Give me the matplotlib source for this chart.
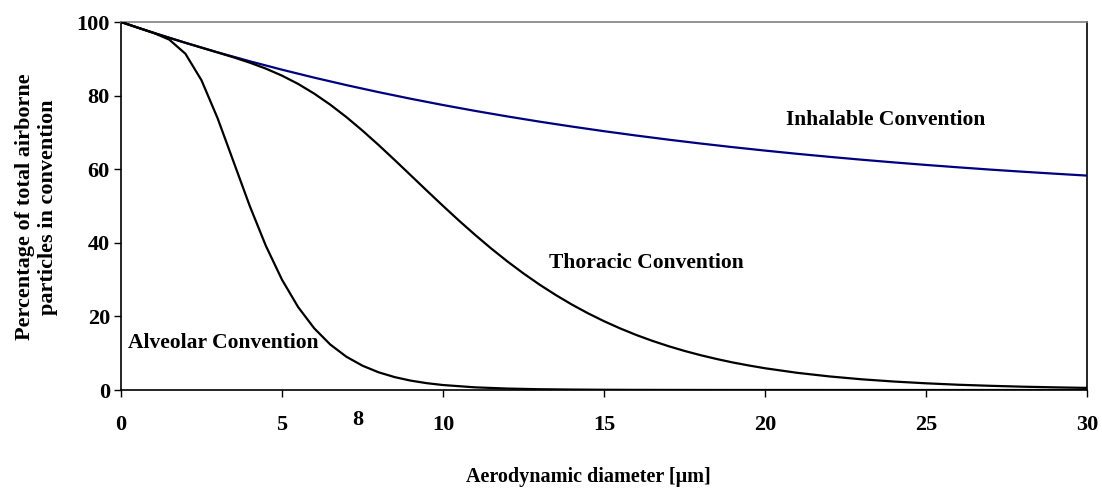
import matplotlib
matplotlib.use("Agg")
import matplotlib.pyplot as plt

# ---- data ----
inhal_x = list(range(0, 31))
inhal_y = [100, 97.09, 94.35, 91.76, 89.33, 87.04, 84.88, 82.85, 80.94, 79.14,
           77.44, 75.84, 74.34, 72.92, 71.59, 70.33, 69.15, 68.03, 66.98, 65.99,
           65.06, 64.18, 63.36, 62.58, 61.85, 61.16, 60.51, 59.89, 59.32, 58.78, 58.26]

thor_x = [0, 0.5, 1, 1.5, 2, 2.5, 3, 3.5, 4, 4.5, 5, 5.5, 6, 6.5, 7, 7.5, 8, 8.5, 9, 9.5,
          10, 10.5, 11, 11.5, 12, 12.5, 13, 13.5, 14, 14.5, 15, 15.5, 16, 16.5, 17, 17.5,
          18, 18.5, 19, 19.5, 20, 21, 22, 23, 24, 25, 26, 27, 28, 29, 30]
thor_y = [100, 98.52, 97.09, 95.70, 94.35, 93.03, 91.72, 90.39, 88.95, 87.33, 85.42,
          83.18, 80.54, 77.53, 74.16, 70.48, 66.57, 62.49, 58.33, 54.15, 50.03, 46.00,
          42.13, 38.43, 34.94, 31.67, 28.63, 25.82, 23.23, 20.86, 18.70, 16.74, 14.96,
          13.36, 11.92, 10.62, 9.46, 8.42, 7.48, 6.66, 5.91, 4.67, 3.69, 2.91, 2.30,
          1.82, 1.43, 1.14, 0.90, 0.72, 0.57]

alv_x = [0, 0.5, 1, 1.5, 2, 2.5, 3, 3.5, 4, 4.5, 5, 5.5, 6, 6.5, 7, 7.5, 8, 8.5, 9, 9.5,
         10, 11, 12, 13, 14, 15, 16, 18, 20, 25, 30]
alv_y = [100, 98.52, 97.07, 95.21, 91.38, 84.16, 73.85, 61.92, 49.97, 39.15, 29.97,
         22.55, 16.77, 12.35, 9.04, 6.60, 4.81, 3.50, 2.54, 1.85, 1.35, 0.72, 0.39,
         0.21, 0.12, 0.065, 0.035, 0.01, 0.003, 0, 0]

x_ticks = [0, 5, 10, 15, 20, 25, 30]
y_ticks = [0, 20, 40, 60, 80, 100]

labels = ["Inhalable Convention", "Thoracic Convention", "Alveolar Convention"]
label_pos = [(26.83, 73.4, "right"), (13.29, 34.5, "left"), (0.22, 12.8, "left")]
stray_label = ("8", 7.35, -8.1)

# ---- figure ----
plt.rcParams["font.family"] = ["Liberation Serif", "DejaVu Serif"]
plt.rcParams["font.weight"] = "bold"

fig = plt.figure(figsize=(11.02, 4.91), dpi=100)
ax = fig.add_axes([121 / 1102, 1 - 390 / 491, (1087 - 121) / 1102, (390 - 22) / 491])

ax.plot(inhal_x, inhal_y, color="#000080", lw=1.6, zorder=3)
ax.plot(thor_x, thor_y, color="black", lw=1.6, zorder=4)
ax.plot(alv_x, alv_y, color="black", lw=1.6, zorder=4)

ax.set_xlim(0, 30)
ax.set_ylim(0, 100)
ax.set_xticks(x_ticks)
ax.set_yticks(y_ticks)
ax.set_xticklabels([str(t) for t in x_ticks], fontsize=16, fontweight="bold")
ax.set_yticklabels([str(t) for t in y_ticks], fontsize=16, fontweight="bold")
ax.tick_params(axis="x", direction="out", length=5, width=1, pad=13)
ax.tick_params(axis="y", direction="out", length=5, width=1, pad=3)

for s in ["left", "bottom", "right"]:
    ax.spines[s].set_color("black")
    ax.spines[s].set_linewidth(1.2)
ax.spines["top"].set_color("#808080")
ax.spines["top"].set_linewidth(1.2)

for txt, (tx, ty, ha) in zip(labels, label_pos):
    ax.text(tx, ty, txt, fontsize=15.5, fontweight="bold", ha=ha, va="center")

ax.text(stray_label[1], stray_label[2], stray_label[0], fontsize=16, fontweight="bold",
        ha="center", va="center", clip_on=False)

fig.text(588 / 1102, 1 - 477 / 491, "Aerodynamic diameter [\u03bcm]", fontsize=14.5,
         fontweight="bold", ha="center", va="center")
fig.text(37 / 1102, 1 - 207 / 491, "Percentage of total airborne\nparticles in convention",
         fontsize=16, fontweight="bold", ha="center", va="center", rotation=90,
         linespacing=1.2)

fig.savefig("out.png", dpi=100, facecolor="white")
